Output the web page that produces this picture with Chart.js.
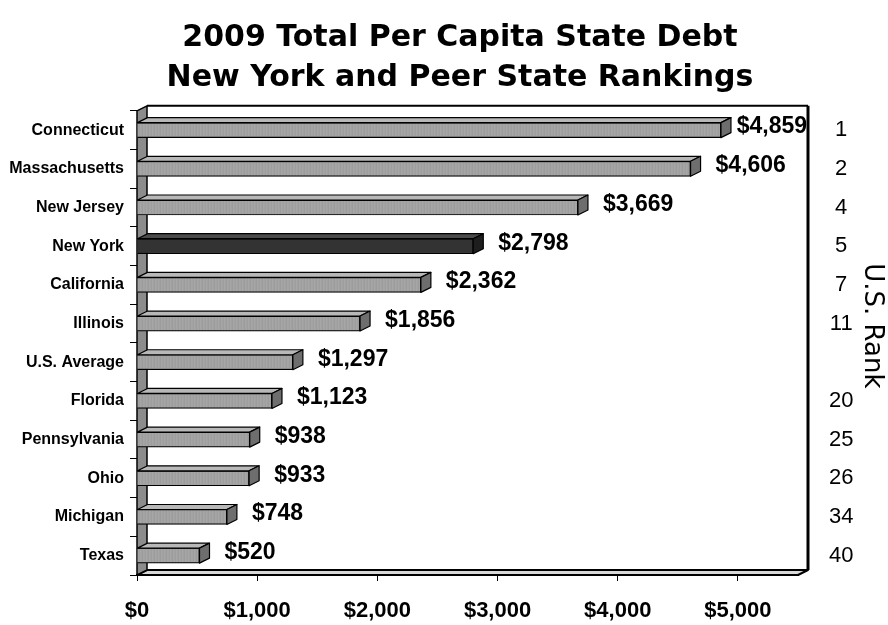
<!DOCTYPE html>
<html>
<head>
<meta charset="utf-8">
<title>2009 Total Per Capita State Debt</title>
<script src="https://cdn.jsdelivr.net/npm/chart.js@4.4.1/dist/chart.umd.min.js"></script>
<style>
  html, body { margin: 0; padding: 0; background: #fff; }
</style>
</head>
<body>
<canvas id="debtChart" width="888" height="625"></canvas>
<script>
/* =========================
   DATA
========================= */
const states = [
  'Connecticut', 'Massachusetts', 'New Jersey', 'New York', 'California', 'Illinois',
  'U.S. Average', 'Florida', 'Pennsylvania', 'Ohio', 'Michigan', 'Texas'
];
const debtPerCapita = [4859, 4606, 3669, 2798, 2362, 1856, 1297, 1123, 938, 933, 748, 520];
const usRank = ['1', '2', '4', '5', '7', '11', '', '20', '25', '26', '34', '40'];
const xTickValues = [0, 1000, 2000, 3000, 4000, 5000];
const highlightState = 'New York';

/* =========================
   STYLE
========================= */
const FONT = "'Liberation Sans', Arial, sans-serif";
const DX = 10;   // depth of the 3D box, to the right
const DY = -5;   // depth of the 3D box, upwards

const money = v => '$' + v.toLocaleString('en-US');

// light vertical grain for the gray bars
function grainPattern(shades) {
  const c = document.createElement('canvas');
  c.width = shades.length;
  c.height = 1;
  const g = c.getContext('2d');
  shades.forEach((s, i) => { g.fillStyle = s; g.fillRect(i, 0, 1, 1); });
  return g.createPattern(c, 'repeat');
}
const barGray = grainPattern(['#a3a3a3', '#9e9e9e', '#a6a6a6', '#a1a1a1', '#9c9c9c', '#a5a5a5']);

/* =========================
   WALL, FLOOR AND FRAME
========================= */
const frame3d = {
  id: 'frame3d',
  beforeDatasetsDraw(chart) {
    const { ctx, chartArea: a } = chart;
    ctx.save();
    ctx.strokeStyle = '#000';
    ctx.lineJoin = 'round';

    // floor
    ctx.beginPath();
    ctx.moveTo(a.left, a.bottom);
    ctx.lineTo(a.right, a.bottom);
    ctx.lineTo(a.right + DX, a.bottom + DY);
    ctx.lineTo(a.left + DX, a.bottom + DY);
    ctx.closePath();
    ctx.fillStyle = '#d8d8d8';
    ctx.fill();
    ctx.lineWidth = 2;
    ctx.stroke();

    // left wall
    ctx.beginPath();
    ctx.moveTo(a.left, a.top);
    ctx.lineTo(a.left + DX, a.top + DY);
    ctx.lineTo(a.left + DX, a.bottom + DY);
    ctx.lineTo(a.left, a.bottom);
    ctx.closePath();
    ctx.fillStyle = '#8c8c8c';
    ctx.fill();
    ctx.lineWidth = 1.5;
    ctx.stroke();

    // back frame
    ctx.beginPath();
    ctx.moveTo(a.left + DX, a.top + DY);
    ctx.lineTo(a.right + DX, a.top + DY);
    ctx.lineWidth = 2;
    ctx.stroke();
    ctx.beginPath();
    ctx.moveTo(a.right + DX, a.top + DY);
    ctx.lineTo(a.right + DX, a.bottom + DY);
    ctx.lineWidth = 3;
    ctx.stroke();
    ctx.restore();
  }
};

/* =========================
   BAR FACES + VALUE LABELS
========================= */
const barFaces = {
  id: 'barFaces',
  afterDatasetsDraw(chart) {
    const { ctx, chartArea: a } = chart;
    const meta = chart.getDatasetMeta(0);
    ctx.save();
    ctx.strokeStyle = '#000';
    ctx.lineWidth = 1.2;
    ctx.lineJoin = 'round';

    meta.data.forEach((bar, i) => {
      const { x, y, base, height } = bar.getProps(['x', 'y', 'base', 'height'], true);
      const top = y - height / 2;
      const bottom = y + height / 2;
      const dark = states[i] === highlightState;

      // top face
      ctx.beginPath();
      ctx.moveTo(base, top);
      ctx.lineTo(x, top);
      ctx.lineTo(x + DX, top + DY);
      ctx.lineTo(base + DX, top + DY);
      ctx.closePath();
      ctx.fillStyle = dark ? '#4a4a4a' : '#b8b8b8';
      ctx.fill();
      ctx.stroke();

      // end face
      ctx.beginPath();
      ctx.moveTo(x, top);
      ctx.lineTo(x + DX, top + DY);
      ctx.lineTo(x + DX, bottom + DY);
      ctx.lineTo(x, bottom);
      ctx.closePath();
      ctx.fillStyle = dark ? '#1e1e1e' : '#6e6e6e';
      ctx.fill();
      ctx.stroke();

      // value label, kept inside the frame
      const text = money(debtPerCapita[i]);
      ctx.font = `bold 23px ${FONT}`;
      ctx.fillStyle = '#000';
      ctx.textAlign = 'left';
      ctx.textBaseline = 'middle';
      const w = ctx.measureText(text).width;
      const lx = Math.min(x + DX + 15, a.right + DX - w - 1);
      ctx.fillText(text, lx, y - 3);
    });
    ctx.restore();
  },
  afterDraw(chart) {
    // title of the rank column, read top to bottom
    const { ctx, chartArea: a } = chart;
    ctx.save();
    ctx.translate(chart.width - 16, (a.top + a.bottom) / 2 - 17);
    ctx.rotate(Math.PI / 2);
    ctx.font = "26px 'DejaVu Sans', sans-serif";
    ctx.fillStyle = '#000';
    ctx.textAlign = 'center';
    ctx.textBaseline = 'middle';
    ctx.fillText('U.S. Rank', 0, 0);
    ctx.restore();
  }
};

/* =========================
   CHART
========================= */
const ctx = document.getElementById('debtChart').getContext('2d');
const debtChart = new Chart(ctx, {
  type: 'bar',
  data: {
    labels: states,
    datasets: [{
      data: debtPerCapita,
      backgroundColor: states.map(s => s === highlightState ? '#333333' : barGray),
      borderColor: '#000',
      borderWidth: 1.2,
      barThickness: 15,
      yAxisID: 'y'
    }]
  },
  options: {
    indexAxis: 'y',
    responsive: false,
    devicePixelRatio: 1,
    animation: false,
    // negative right padding pushes the title centre over the plot
    layout: { padding: { left: 0, right: -32, top: 0, bottom: 0 } },
    plugins: {
      legend: { display: false },
      tooltip: { enabled: false },
      title: {
        display: true,
        text: ['2009 Total Per Capita State Debt', 'New York and Peer State Rankings'],
        color: '#000',
        font: { family: "'DejaVu Sans', sans-serif", size: 30, weight: 'bold', lineHeight: 1.33 },
        padding: { top: 18, bottom: 13 }
      }
    },
    scales: {
      x: {
        min: 0,
        max: 5500,
        afterBuildTicks: s => { s.ticks = xTickValues.map(v => ({ value: v })); },
        afterFit: s => { s.height = 50; },
        grid: { drawOnChartArea: false, tickLength: 6, color: '#000' },
        border: { color: '#000', width: 2 },
        ticks: {
          callback: v => money(v),
          color: '#000',
          padding: 17,
          font: { family: FONT, size: 22, weight: 'bold' }
        }
      },
      y: {
        afterFit: s => { s.width = 137; },
        grid: { drawOnChartArea: false, offset: true, tickLength: 7, color: '#000' },
        border: { color: '#000', width: 1 },
        ticks: {
          color: '#000',
          padding: 6,
          font: { family: FONT, size: 16, weight: 'bold' }
        }
      },
      y2: {
        type: 'category',
        position: 'right',
        labels: usRank,
        offset: true,
        display: true,
        afterFit: s => { s.width = 122; },
        grid: { display: false, drawTicks: false },
        border: { display: false },
        ticks: {
          color: '#000',
          crossAlign: 'center',
          padding: 31,
          font: { family: FONT, size: 22 }
        }
      }
    }
  },
  plugins: [frame3d, barFaces]
});
</script>
</body>
</html>
